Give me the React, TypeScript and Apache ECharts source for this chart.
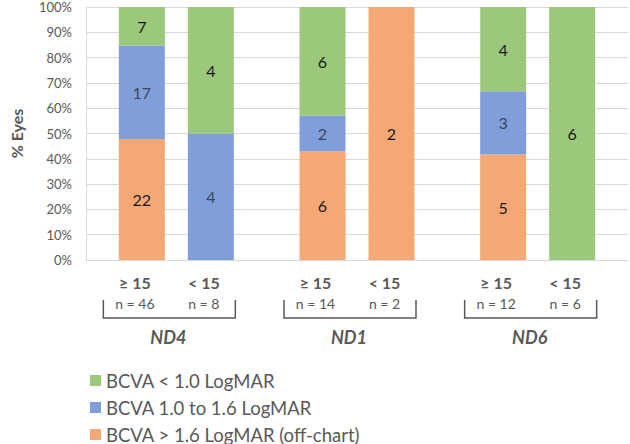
import React, { useEffect, useRef } from "react";
import * as echarts from "echarts";

const groups = ["ND4", "ND1", "ND6"];
const subLabels = ["≥ 15", "< 15"];
const seriesNames = ["BCVA < 1.0 LogMAR", "BCVA 1.0 to 1.6 LogMAR", "BCVA > 1.6 LogMAR (off-chart)"];

// counts per group, for the "≥ 15" bar
const geGreen = [7, 6, 4];
const geBlue = [17, 2, 3];
const geOrange = [22, 6, 5];
// counts per group, for the "< 15" bar
const ltGreen = [4, 0, 6];
const ltBlue = [4, 0, 0];
const ltOrange = [0, 2, 0];

const geN = [46, 14, 12];
const ltN = [8, 2, 6];

const yTicks = [0, 100, 10];

const GREEN = "#9CC87C";
const BLUE = "#809FDA";
const ORANGE = "#F3A876";
const GRAY = "#595959";
const FONT = "Lato, 'Noto Sans', 'DejaVu Sans', sans-serif";

export default function App() {
  const ref = useRef<HTMLDivElement>(null);
  useEffect(() => {
    document.body.style.margin = "0";
    if (!ref.current) return;
    const chart = echarts.init(ref.current, undefined, { renderer: "svg" });

    const pct = (counts: number[], totals: number[]) => counts.map((c, i) => (c / totals[i]) * 100);

    const mk = (name: string, stack: string, counts: number[], totals: number[], color: string, labelColor: string) => ({
      name,
      type: "bar",
      stack,
      barWidth: 46,
      barGap: "50%",
      data: pct(counts, totals),
      itemStyle: { color },
      label: {
        show: true,
        position: "inside",
        fontSize: 16,
        fontFamily: FONT,
        color: labelColor,
        formatter: (p: any) => (counts[p.dataIndex] ? String(counts[p.dataIndex]) : ""),
      },
      emphasis: { disabled: true },
    });

    chart.setOption({
      animation: false,
      textStyle: { fontFamily: FONT },
      grid: { left: 71, right: 2, top: 7, bottom: 184 },
      legend: {
        orient: "vertical",
        left: 90,
        top: 371,
        height: 120,
        padding: 0,
        itemWidth: 11,
        itemHeight: 11,
        itemGap: 8,
        icon: "rect",
        data: seriesNames,
        textStyle: { fontSize: 18.5, color: GRAY, fontFamily: FONT },
      },
      xAxis: {
        type: "category",
        data: groups,
        axisLabel: { show: false },
        axisTick: { show: false },
        axisLine: { lineStyle: { color: "#d9d9d9" } },
      },
      yAxis: {
        type: "value",
        min: yTicks[0],
        max: yTicks[1],
        interval: yTicks[2],
        name: "% Eyes",
        nameLocation: "middle",
        nameGap: 62,
        nameTextStyle: { fontSize: 16, fontWeight: "bold", color: GRAY, fontFamily: FONT },
        axisLabel: { formatter: "{value}%", fontSize: 13, color: GRAY, margin: 14, fontFamily: FONT },
        axisLine: { show: true, lineStyle: { color: "#d9d9d9" } },
        splitLine: { lineStyle: { color: "#d9d9d9" } },
      },
      series: [
        mk(seriesNames[2], "ge", geOrange, geN, ORANGE, "#1a1a1a"),
        mk(seriesNames[1], "ge", geBlue, geN, BLUE, "#3b4660"),
        mk(seriesNames[0], "ge", geGreen, geN, GREEN, "#1a1a1a"),
        mk(seriesNames[2], "lt", ltOrange, ltN, ORANGE, "#1a1a1a"),
        mk(seriesNames[1], "lt", ltBlue, ltN, BLUE, "#3b4660"),
        mk(seriesNames[0], "lt", ltGreen, ltN, GREEN, "#1a1a1a"),
      ],
    });

    const graphic: any[] = [];
    const half = 34.5;
    groups.forEach((g, i) => {
      const cx = chart.convertToPixel({ xAxisIndex: 0 }, g) as number;
      const c = cx - 7;
      [-half, half].forEach((d, j) => {
        graphic.push({
          type: "text",
          x: c + d,
          y: 282,
          style: {
            text: subLabels[j],
            fontSize: 16,
            fontWeight: "bold",
            fill: GRAY,
            fontFamily: FONT,
            align: "center",
            verticalAlign: "middle",
          },
        });
        graphic.push({
          type: "text",
          x: c + d,
          y: 303,
          style: {
            text: "n = " + (j === 0 ? geN[i] : ltN[i]),
            fontSize: 14,
            fill: GRAY,
            fontFamily: FONT,
            align: "center",
            verticalAlign: "middle",
          },
        });
      });
      graphic.push({
        type: "polyline",
        shape: {
          points: [
            [c - 66, 300],
            [c - 66, 318],
            [c + 66, 318],
            [c + 66, 300],
          ],
        },
        style: { stroke: GRAY, lineWidth: 1.5, fill: null },
      });
      graphic.push({
        type: "text",
        x: c - 1,
        y: 337,
        style: {
          text: g,
          fontSize: 18,
          fontWeight: "bold",
          fontStyle: "italic",
          fill: GRAY,
          fontFamily: FONT,
          align: "center",
          verticalAlign: "middle",
        },
      });
    });
    chart.setOption({ graphic });

    return () => chart.dispose();
  }, []);
  return <div ref={ref} style={{ width: 630, height: 444 }} />;
}
